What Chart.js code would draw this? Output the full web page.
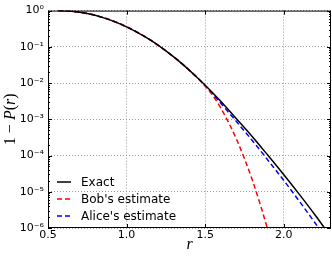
<!DOCTYPE html>
<html>
<head>
<meta charset="utf-8">
<script src="https://cdn.jsdelivr.net/npm/chart.js@4"></script>
<style>
  html, body { margin: 0; padding: 0; background: #fff; }
  canvas { display: block; }
</style>
</head>
<body>
<canvas id="myChart" width="332" height="257"></canvas>
<script>
// values
const exactR = [0.564, 0.65, 0.75, 0.85, 0.95, 1.05, 1.15, 1.25, 1.35, 1.45, 1.5, 1.6, 1.7, 1.8, 1.9, 2.0, 2.1, 2.2, 2.3];
const exactP = [1.0, 0.959, 0.828, 0.641, 0.445, 0.277, 0.155, 0.0773, 0.0348, 0.014, 8.71e-3, 3.09e-3, 1.02e-3, 3.31e-4, 1.0e-4, 2.95e-5, 8.32e-6, 2.24e-6, 5.62e-7];

const bobR = [0.564, 0.65, 0.75, 0.85, 0.95, 1.05, 1.15, 1.25, 1.35, 1.45, 1.5, 1.55, 1.6, 1.65, 1.7, 1.75, 1.8, 1.85, 1.9, 1.95];
const bobP = [1.0, 0.959, 0.828, 0.641, 0.445, 0.277, 0.155, 0.0773, 0.0348, 0.014, 8.2e-3, 4.4e-3, 2.02e-3, 7.94e-4, 2.75e-4, 8.13e-5, 2.09e-5, 4.47e-6, 8.3e-7, 1.32e-7];

const aliceR = [0.564, 0.65, 0.75, 0.85, 0.95, 1.05, 1.15, 1.25, 1.35, 1.45, 1.5, 1.6, 1.7, 1.8, 1.9, 2.0, 2.1, 2.2, 2.3];
const aliceP = [1.0, 0.96, 0.832, 0.648, 0.45, 0.28, 0.156, 0.0775, 0.0348, 0.014, 8.43e-3, 2.73e-3, 8.51e-4, 2.57e-4, 7.33e-5, 2.04e-5, 5.37e-6, 1.35e-6, 3.24e-7];

const seriesNames = ["Exact", "Bob's estimate", "Alice's estimate"];
const xTicks = [0.5, 1.0, 1.5, 2.0];
const yTicks = [1, 1e-1, 1e-2, 1e-3, 1e-4, 1e-5, 1e-6];

const SUP = { "-": "\u207B", "0": "\u2070", "1": "\u00B9", "2": "\u00B2", "3": "\u00B3", "4": "\u2074", "5": "\u2075", "6": "\u2076" };
const supText = (n) => String(n).split("").map((c) => SUP[c]).join("");

const toPoints = (xs, ys) => xs.map((x, i) => ({ x: x, y: ys[i] }));

// frame, inward ticks (matplotlib style) and the text bits Chart.js can't place
const framePlugin = {
  id: "frame",
  afterDatasetsDraw(chart) {
    const { ctx, chartArea: a, scales: { x, y } } = chart;
    ctx.save();
    ctx.strokeStyle = "#000";
    ctx.lineWidth = 1;
    ctx.strokeRect(a.left + 0.5, a.top + 0.5, a.right - a.left - 1, a.bottom - a.top - 1);
    ctx.beginPath();
    xTicks.forEach((v) => {
      const px = Math.round(x.getPixelForValue(v)) + 0.5;
      ctx.moveTo(px, a.bottom); ctx.lineTo(px, a.bottom - 4);
      ctx.moveTo(px, a.top); ctx.lineTo(px, a.top + 4);
    });
    yTicks.forEach((v) => {
      const py = Math.round(y.getPixelForValue(v)) + 0.5;
      ctx.moveTo(a.left, py); ctx.lineTo(a.left + 4, py);
      ctx.moveTo(a.right, py); ctx.lineTo(a.right - 4, py);
      if (v < 1) {
        for (let m = 2; m <= 9; m++) {
          const pm = Math.round(y.getPixelForValue(v * m)) + 0.5;
          ctx.moveTo(a.left, pm); ctx.lineTo(a.left + 2, pm);
          ctx.moveTo(a.right, pm); ctx.lineTo(a.right - 2, pm);
        }
      }
    });
    ctx.stroke();
    ctx.restore();
  },
  afterDraw(chart) {
    const { ctx, chartArea: a } = chart;
    ctx.save();
    // legend, inside lower left, no frame
    ctx.font = "12px 'DejaVu Sans'";
    ctx.textBaseline = "middle";
    chart.data.datasets.forEach((ds, i) => {
      const ly = 182 + i * 17;
      ctx.beginPath();
      ctx.setLineDash(ds.borderDash || []);
      ctx.strokeStyle = ds.borderColor;
      ctx.lineWidth = ds.borderWidth;
      ctx.moveTo(57, ly); ctx.lineTo(71, ly);
      ctx.stroke();
      ctx.setLineDash([]);
      ctx.fillStyle = "#000";
      ctx.fillText(ds.label, 81, ly + 1);
    });

    // x axis title
    ctx.font = "italic 16px 'Liberation Serif'";
    ctx.textAlign = "center";
    ctx.textBaseline = "alphabetic";
    ctx.fillText("r", (a.left + a.right) / 2, 249);

    // y axis title: 1 − P(r)
    const runs = [
      ["1", false], ["\u2005\u2212\u2005", false], ["P", true], ["(", false], ["r", true], [")", false]
    ];
    const fontFor = (it) => (it ? "italic " : "") + "16px 'Liberation Serif'";
    let total = 0;
    runs.forEach(([t, it]) => { ctx.font = fontFor(it); total += ctx.measureText(t).width; });
    ctx.translate(15, (a.top + a.bottom) / 2);
    ctx.rotate(-Math.PI / 2);
    ctx.textAlign = "left";
    let cx = -total / 2;
    runs.forEach(([t, it]) => {
      ctx.font = fontFor(it);
      ctx.fillText(t, cx, 0);
      cx += ctx.measureText(t).width;
    });
    ctx.restore();
  },
};

const ctx = document.getElementById("myChart").getContext("2d");

new Chart(ctx, {
  type: "line",
  data: {
    datasets: [
      {
        label: seriesNames[0],
        data: toPoints(exactR, exactP),
        borderColor: "#000000",
        borderWidth: 1.5,
      },
      {
        label: seriesNames[1],
        data: toPoints(bobR, bobP),
        borderColor: "#ff0000",
        borderWidth: 1.5,
        borderDash: [5, 3],
      },
      {
        label: seriesNames[2],
        data: toPoints(aliceR, aliceP),
        borderColor: "#0000ff",
        borderWidth: 1.5,
        borderDash: [5, 3],
      },
    ],
  },
  options: {
    responsive: false,
    animation: false,
    devicePixelRatio: 1,
    layout: { padding: { top: 6, right: 1, left: 0, bottom: 0 } },
    elements: {
      point: { radius: 0 },
      line: { cubicInterpolationMode: "monotone", fill: false },
    },
    datasets: { line: { clip: 0 } },
    plugins: {
      legend: { display: false },
      tooltip: { enabled: false },
    },
    scales: {
      x: {
        type: "linear",
        min: 0.5,
        max: 2.3,
        afterBuildTicks: (scale) => {
          scale.ticks = xTicks.map((v) => ({ value: v }));
        },
        afterFit: (scale) => {
          scale.height = 29;
        },
        ticks: {
          color: "#000",
          font: { family: "'DejaVu Sans'", size: 11 },
          padding: 1,
          maxRotation: 0,
          callback: (v) => Number(v).toFixed(1),
        },
        grid: { color: "#999", lineWidth: 1, drawTicks: false },
        border: { display: false, dash: [1, 2] },
      },
      y: {
        type: "logarithmic",
        min: 1e-6,
        max: 1,
        afterBuildTicks: (scale) => {
          scale.ticks = yTicks.map((v) => ({ value: v, major: true }));
        },
        afterFit: (scale) => {
          scale.width = 48;
        },
        ticks: {
          color: "#000",
          font: { family: "'DejaVu Sans'", size: 11 },
          padding: 4,
          autoSkip: false,
          callback: (v) => "10" + supText(Math.round(Math.log10(v))),
        },
        grid: { color: "#999", lineWidth: 1, drawTicks: false },
        border: { display: false, dash: [1, 2] },
      },
    },
  },
  plugins: [framePlugin],
});
</script>
</body>
</html>
